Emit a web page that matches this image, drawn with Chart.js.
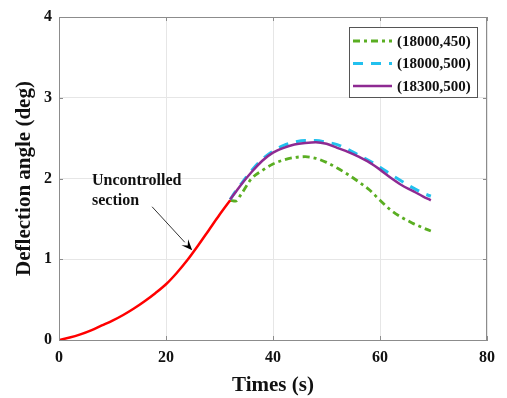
<!DOCTYPE html>
<html>
<head>
<meta charset="utf-8">
<script src="https://cdn.jsdelivr.net/npm/chart.js@4.4.1/dist/chart.umd.min.js"></script>
<style>
  html, body { margin: 0; padding: 0; background: #fff; }
  #wrap { width: 507px; height: 398px; }
</style>
</head>
<body>
<div id="wrap"><canvas id="myChart"></canvas></div>
<script>
// uncontrolled section (red)
const freeTimes  = [0, 2, 4, 6, 8, 10, 12, 14, 16, 18, 20, 22, 24, 26, 28, 30, 32];
const freeAngles = [0, 0.03, 0.07, 0.12, 0.18, 0.24, 0.31, 0.39, 0.48, 0.58, 0.69, 0.83, 0.99, 1.17, 1.36, 1.55, 1.73];

// controlled section
const ctrlTimes = [32, 33, 34, 36, 38, 40, 42, 44, 46, 48, 50, 52, 54, 56, 58, 60, 62, 64, 66, 68, 69.5];
const case18000_450 = [1.73, 1.72, 1.8, 2.0, 2.1, 2.18, 2.23, 2.26, 2.27, 2.25, 2.2, 2.13, 2.05, 1.96, 1.86, 1.73, 1.61, 1.52, 1.45, 1.39, 1.35];
const case18000_500 = [1.74, 1.84, 1.93, 2.1, 2.24, 2.34, 2.41, 2.45, 2.47, 2.47, 2.45, 2.42, 2.36, 2.29, 2.22, 2.14, 2.05, 1.97, 1.89, 1.82, 1.78];
const case18300_500 = [1.74, 1.83, 1.92, 2.08, 2.22, 2.32, 2.38, 2.42, 2.44, 2.45, 2.43, 2.38, 2.33, 2.27, 2.2, 2.11, 2.01, 1.92, 1.85, 1.78, 1.73];

const legendLabels = ['(18000,450)', '(18000,500)', '(18300,500)'];

const toPts = (xs, ys) => xs.map((x, i) => ({ x: x, y: ys[i] }));
const serif = '"Liberation Serif", "DejaVu Serif", serif';

// frame: top/right border and inward ticks
const framePlugin = {
  id: 'frame',
  afterDraw(chart) {
    const { ctx, chartArea: { top, right, bottom, left } } = chart;
    const xs = chart.scales.x, ys = chart.scales.y;
    ctx.save();
    ctx.strokeStyle = '#8c8c8c';
    ctx.lineWidth = 1;
    ctx.beginPath();
    ctx.moveTo(left, top + 0.5); ctx.lineTo(right, top + 0.5);
    ctx.moveTo(right - 0.5, top); ctx.lineTo(right - 0.5, bottom);
    xs.ticks.forEach(t => {
      const px = Math.round(xs.getPixelForValue(t.value)) + 0.5;
      ctx.moveTo(px, bottom); ctx.lineTo(px, bottom - 4);
      ctx.moveTo(px, top); ctx.lineTo(px, top + 4);
    });
    ys.ticks.forEach(t => {
      const py = Math.round(ys.getPixelForValue(t.value)) + 0.5;
      ctx.moveTo(left, py); ctx.lineTo(left + 4, py);
      ctx.moveTo(right, py); ctx.lineTo(right - 4, py);
    });
    ctx.stroke();
    ctx.restore();
  }
};

// annotation "Uncontrolled section" with arrow
const notePlugin = {
  id: 'note',
  afterDraw(chart) {
    const { ctx } = chart;
    const xs = chart.scales.x, ys = chart.scales.y;
    const x0 = xs.getPixelForValue(17.4), y0 = ys.getPixelForValue(1.65);
    const x1 = xs.getPixelForValue(24.9), y1 = ys.getPixelForValue(1.11);
    ctx.save();
    ctx.font = 'bold 16px ' + serif;
    ctx.fillStyle = '#111';
    ctx.textAlign = 'left';
    ctx.textBaseline = 'alphabetic';
    ctx.fillText('Uncontrolled', 92, 185);
    ctx.fillText('section', 92, 205);

    const ang = Math.atan2(y1 - y0, x1 - x0);
    const hl = 11, hw = 4.5;
    const bx = x1 - hl * Math.cos(ang), by = y1 - hl * Math.sin(ang);
    ctx.strokeStyle = '#333';
    ctx.lineWidth = 1;
    ctx.beginPath();
    ctx.moveTo(x0, y0);
    ctx.lineTo(bx, by);
    ctx.stroke();
    ctx.fillStyle = '#000';
    ctx.beginPath();
    ctx.moveTo(x1, y1);
    ctx.lineTo(bx + hw * Math.sin(ang), by - hw * Math.cos(ang));
    ctx.lineTo(x1 - 0.6 * hl * Math.cos(ang), y1 - 0.6 * hl * Math.sin(ang));
    ctx.lineTo(bx - hw * Math.sin(ang), by + hw * Math.cos(ang));
    ctx.closePath();
    ctx.fill();
    ctx.restore();
  }
};

// boxed legend inside the plot
const legendPlugin = {
  id: 'boxLegend',
  afterDraw(chart) {
    const { ctx } = chart;
    const items = chart.data.datasets.filter(d => d.label);
    ctx.save();
    ctx.fillStyle = '#fff';
    ctx.fillRect(349.5, 27.5, 128, 70);
    ctx.strokeStyle = '#555';
    ctx.lineWidth = 1;
    ctx.strokeRect(349.5, 27.5, 128, 70);
    ctx.font = 'bold 15px ' + serif;
    ctx.textBaseline = 'middle';
    ctx.textAlign = 'left';
    items.forEach((d, i) => {
      const y = 41 + i * 22.5;
      ctx.strokeStyle = d.borderColor;
      ctx.lineWidth = d.borderWidth;
      ctx.setLineDash(d.borderDash || []);
      ctx.beginPath();
      ctx.moveTo(353, y);
      ctx.lineTo(392, y);
      ctx.stroke();
      ctx.setLineDash([]);
      ctx.fillStyle = '#111';
      ctx.fillText(d.label, 397, y + 1);
    });
    ctx.restore();
  }
};

new Chart(document.getElementById('myChart'), {
  type: 'line',
  data: {
    datasets: [
      {
        label: legendLabels[0],
        data: toPts(ctrlTimes, case18000_450),
        borderColor: '#5aae22',
        borderWidth: 2.8,
        borderDash: [7, 4, 3, 4],
        order: 3,
      },
      {
        label: legendLabels[1],
        data: toPts(ctrlTimes, case18000_500),
        borderColor: '#22c0ee',
        borderWidth: 3,
        borderDash: [10, 8],
        order: 2,
      },
      {
        label: legendLabels[2],
        data: toPts(ctrlTimes, case18300_500),
        borderColor: '#8e2a92',
        borderWidth: 2.5,
        order: 1,
      },
      {
        data: toPts(freeTimes, freeAngles),
        borderColor: '#ff0000',
        borderWidth: 2.5,
        order: 0,
      },
    ],
  },
  options: {
    responsive: true,
    maintainAspectRatio: false,
    animation: false,
    layout: { padding: { left: 0, right: 20, top: 17, bottom: 0 } },
    elements: {
      point: { radius: 0 },
      line: { cubicInterpolationMode: 'monotone', fill: false },
    },
    plugins: {
      legend: { display: false },
      tooltip: { enabled: false },
    },
    scales: {
      x: {
        type: 'linear',
        min: 0,
        max: 80,
        ticks: { stepSize: 20, padding: 8, color: '#111', font: { family: serif, size: 16, weight: 'bold' } },
        grid: { color: '#e6e6e6', drawTicks: false },
        border: { color: '#8c8c8c' },
        title: { display: true, text: 'Times (s)', color: '#111', padding: { top: 0, bottom: 0 },
                 font: { family: serif, size: 21, weight: 'bold' } },
        afterFit(scale) { scale.height = 58; },
      },
      y: {
        min: 0,
        max: 4,
        ticks: { stepSize: 1, padding: 7, color: '#111', font: { family: serif, size: 16, weight: 'bold' } },
        grid: { color: '#e6e6e6', drawTicks: false },
        border: { color: '#8c8c8c' },
        title: { display: true, text: 'Deflection angle (deg)', color: '#111', padding: { top: 12, bottom: 0 },
                 font: { family: serif, size: 21, weight: 'bold' } },
        afterFit(scale) { scale.width = 59; },
      },
    },
  },
  plugins: [framePlugin, notePlugin, legendPlugin],
});
</script>
</body>
</html>
